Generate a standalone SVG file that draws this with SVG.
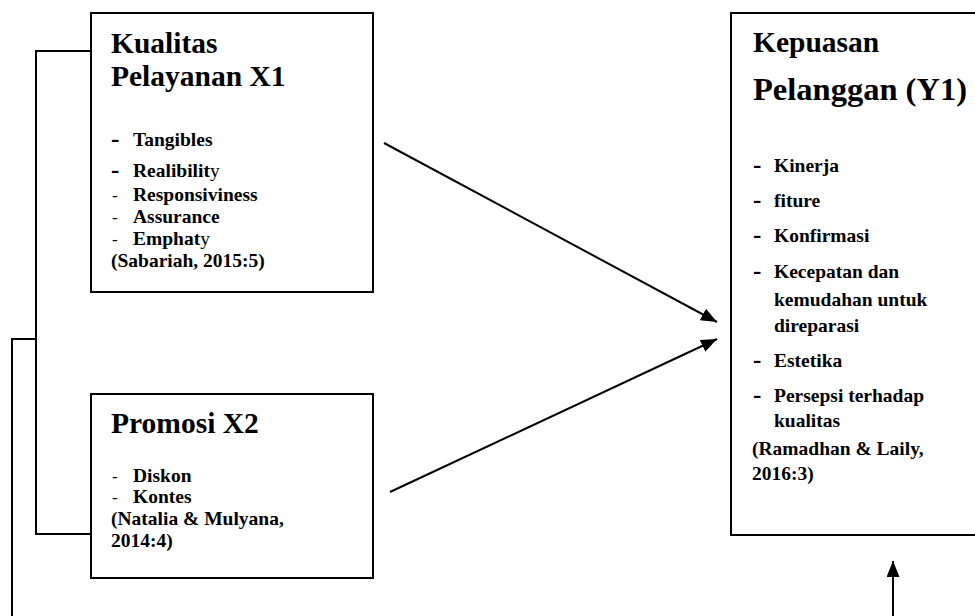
<svg xmlns="http://www.w3.org/2000/svg" width="975" height="616" viewBox="0 0 975 616">
<defs>
<marker id="ah" viewBox="0 0 10 10" refX="10" refY="5" markerWidth="8" markerHeight="6.5" markerUnits="strokeWidth" orient="auto" preserveAspectRatio="none">
<path d="M0,0 L10,5 L0,10 z" fill="#000"/>
</marker>
<style>
.box{fill:#fff;stroke:#000;stroke-width:2}
.t{font-family:"Liberation Serif","Times New Roman",serif;font-weight:bold;fill:#000}
.h{font-size:29.5px}
.h2{font-size:32.5px}
.i{font-size:19.5px}
.dl{font-size:25px}
.ds{font-size:17px;font-weight:normal}
.n{font-weight:normal}
.ln{fill:none;stroke:#000;stroke-width:2}
</style>
</defs>
<rect width="975" height="616" fill="#fff"/>
<g id="connectors">
<polyline class="ln" points="91,51 36,51 36,534 91,534"/>
<polyline class="ln" points="36,339 12,339 12,616"/>
<line class="ln" x1="384" y1="143" x2="717" y2="322" marker-end="url(#ah)"/>
<line class="ln" x1="390" y1="492" x2="717" y2="339" marker-end="url(#ah)"/>
<line class="ln" x1="893" y1="616" x2="893" y2="561" marker-end="url(#ah)"/>
</g>
<g id="node-x1">
<rect class="box" x="91" y="13" width="282" height="279"/>
<text class="t h" x="111" y="53">Kualitas</text>
<text class="t h" x="111" y="86">Pelayanan X1</text>
<text class="t dl" x="111" y="147">-</text><text class="t i" x="133" y="146">Tangibles</text>
<text class="t dl" x="111" y="178">-</text><text class="t i" x="133" y="177">Realibilit<tspan class="n">y</tspan></text>
<text class="t ds" x="112" y="201">-</text><text class="t i" x="133" y="201">Responsiviness</text>
<text class="t ds" x="112" y="223">-</text><text class="t i" x="133" y="223">Assurance</text>
<text class="t ds" x="112" y="245">-</text><text class="t i" x="133" y="245">Emphat<tspan class="n">y</tspan></text>
<text class="t i" x="111" y="267">(Sabariah, 2015:5)</text>
</g>
<g id="node-x2">
<rect class="box" x="91" y="394" width="282" height="184"/>
<text class="t h" x="111" y="433">Promosi X2</text>
<text class="t ds" x="112" y="482">-</text><text class="t i" x="133" y="482">Diskon</text>
<text class="t ds" x="112" y="503">-</text><text class="t i" x="133" y="503">Kontes</text>
<text class="t i" x="111" y="525">(Natalia &amp; Mulyana,</text>
<text class="t i" x="111" y="547">2014:4)</text>
</g>
<g id="node-y1">
<rect class="box" x="731" y="13" width="260" height="522"/>
<text class="t h" x="753" y="52">Kepuasan</text>
<text class="t h2" x="753" y="100">Pelanggan (Y1)</text>
<text class="t dl" x="753" y="173">-</text><text class="t i" x="774" y="172">Kinerja</text>
<text class="t dl" x="753" y="208">-</text><text class="t i" x="774" y="207">fiture</text>
<text class="t dl" x="753" y="243">-</text><text class="t i" x="774" y="242">Konfirmasi</text>
<text class="t dl" x="753" y="279">-</text><text class="t i" x="774" y="278">Kecepatan dan</text>
<text class="t i" x="774" y="306">kemudahan untuk</text>
<text class="t i" x="774" y="332">direparasi</text>
<text class="t dl" x="753" y="368">-</text><text class="t i" x="774" y="367">Estetika</text>
<text class="t dl" x="753" y="403">-</text><text class="t i" x="774" y="402">Persepsi terhadap</text>
<text class="t i" x="774" y="427">kualitas</text>
<text class="t i" x="752" y="455">(Ramadhan &amp; Laily,</text>
<text class="t i" x="752" y="480">2016:3)</text>
</g>
</svg>
